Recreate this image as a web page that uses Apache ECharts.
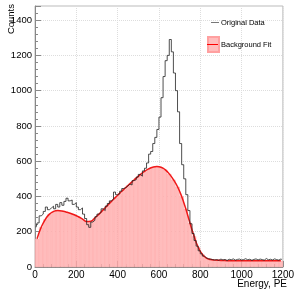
<!DOCTYPE html>
<html>
<head>
<meta charset="utf-8">
<script src="https://cdn.jsdelivr.net/npm/echarts@6/dist/echarts.min.js"></script>
<style>
    html, body { margin: 0; padding: 0; background: #fff; }
    #main { width: 297px; height: 290px; }
</style>
</head>
<body>
<div id="main"></div>
<script>
    // original data, 10 PE bins from 0 to 1200
    const dataBin = 10;
    const dataCounts = [
        225, 250, 290, 300, 315, 340, 325, 335, 345, 330,
        355, 340, 365, 350, 372, 390, 375, 380, 355, 365,
        340, 325, 335, 300, 275, 240, 225, 255, 265, 285,
        300, 310, 330, 320, 345, 360, 375, 385, 425, 410,
        415, 430, 445, 450, 460, 470, 465, 490, 495, 510,
        525, 515, 545, 560, 590, 640, 655, 700, 735, 780,
        850, 960, 1080, 1170, 1200, 1290, 1220, 1100, 1000, 880,
        700, 580, 500, 410, 320, 245, 190, 150, 118, 92,
        75, 62, 52, 47, 45, 42, 40, 42, 38, 45,
        40, 43, 37, 44, 41, 46, 39, 43, 45, 40,
        42, 47, 41, 44, 38, 43, 46, 40, 45, 42,
        39, 48, 41, 44, 40, 46, 42, 39, 45, 43
    ];

    // background fit, 20 PE bins
    const fitBin = 20;
    const fitCounts = [
        160, 225, 270, 300, 315, 320, 318, 312, 305, 296,
        285, 272, 258, 260, 278, 300, 324, 348, 372, 395,
        418, 440, 462, 483, 504, 524, 542, 556, 566, 570,
        566, 552, 528, 495, 455, 400, 330, 250, 175, 112,
        72, 50, 42, 39, 38, 37, 36, 36, 35, 35,
        35, 35, 35, 35, 35, 35, 35, 35, 35, 35
    ];

    const xTicks = [0, 200, 400, 600, 800, 1000, 1200];

    const dataPoints = dataCounts.map((v, i) => [i * dataBin + dataBin / 2, v]);
    const fitPoints = fitCounts.map((v, i) => [i * fitBin + fitBin / 2, v]);

    const myChart = echarts.init(document.getElementById('main'));
    const font = 'Liberation Sans, Arial, sans-serif';
    // thin horizontal line icon, padded to the full icon box
    const lineIcon = 'path://M0,0h0.01v0.01h-0.01z M3,7h8v1h-8z M11,14.99h0.01v0.01h-0.01z';

    const option = {
        animation: false,
        grid: {
            left: 35, right: 10, top: 6, bottom: 23,
            show: true, borderColor: '#bbb', borderWidth: 1
        },
        legend: {
            orient: 'vertical',
            left: 207,
            top: 15,
            padding: 0,
            itemWidth: 11,
            itemHeight: 15,
            itemGap: 6,
            textStyle: { fontFamily: font, fontSize: 7.5, color: '#000', padding: [0, 0, 0, -3] },
            data: [
                { name: 'Original Data', icon: lineIcon, itemStyle: { color: '#777' } },
                { name: 'Background Fit', icon: 'rect' }
            ]
        },
        xAxis: {
            type: 'value',
            min: xTicks[0],
            max: xTicks[xTicks.length - 1],
            interval: 200,
            axisLine: { lineStyle: { color: '#888' } },
            axisTick: { inside: true, length: 6, lineStyle: { color: '#888' } },
            minorTick: { show: true, splitNumber: 5, length: 3, lineStyle: { color: '#888' } },
            splitLine: { show: true, lineStyle: { color: '#ddd', type: 'dotted' } },
            axisLabel: {
                fontFamily: font, fontSize: 10, color: '#000', margin: 3,
                formatter: v => String(v)
            }
        },
        yAxis: {
            type: 'value',
            min: 0,
            max: 1480,
            interval: 200,
            axisLine: { show: true, lineStyle: { color: '#888' } },
            axisTick: { show: true, inside: true, length: 6, lineStyle: { color: '#888' } },
            minorTick: { show: true, splitNumber: 5, length: 3, lineStyle: { color: '#888' } },
            splitLine: { show: true, lineStyle: { color: '#ddd', type: 'dotted' } },
            axisLabel: {
                fontFamily: font, fontSize: 9.5, color: '#000', margin: 3,
                showMaxLabel: false,
                formatter: v => String(v)
            }
        },
        graphic: [
            {
                type: 'text', x: 11, y: 4, rotation: Math.PI / 2,
                style: { text: 'Counts', font: '9.5px ' + font, fill: '#000', align: 'right', verticalAlign: 'middle' }
            },
            {
                type: 'text', right: 10, bottom: 1,
                style: { text: 'Energy, PE', font: '10px ' + font, fill: '#000' }
            },
            {
                type: 'line', shape: { x1: 207, y1: 44.5, x2: 218, y2: 44.5 },
                style: { stroke: '#f00', lineWidth: 1 }, z: 100
            }
        ],
        series: [
            {
                name: 'Background Fit',
                type: 'bar',
                data: fitPoints,
                barWidth: 4.2,
                itemStyle: { color: '#ffbcbc', borderColor: '#ffa0a0', borderWidth: 0.5 },
                z: 1
            },
            {
                name: 'Fit Curve',
                type: 'line',
                data: fitPoints,
                smooth: true,
                symbol: 'none',
                lineStyle: { color: '#f01818', width: 1.5 },
                z: 2
            },
            {
                name: 'Original Data',
                type: 'line',
                data: dataPoints,
                step: 'middle',
                symbol: 'none',
                lineStyle: { color: '#222', width: 0.8 },
                itemStyle: { color: '#222' },
                z: 3
            }
        ]
    };
    myChart.setOption(option);
</script>
</body>
</html>
